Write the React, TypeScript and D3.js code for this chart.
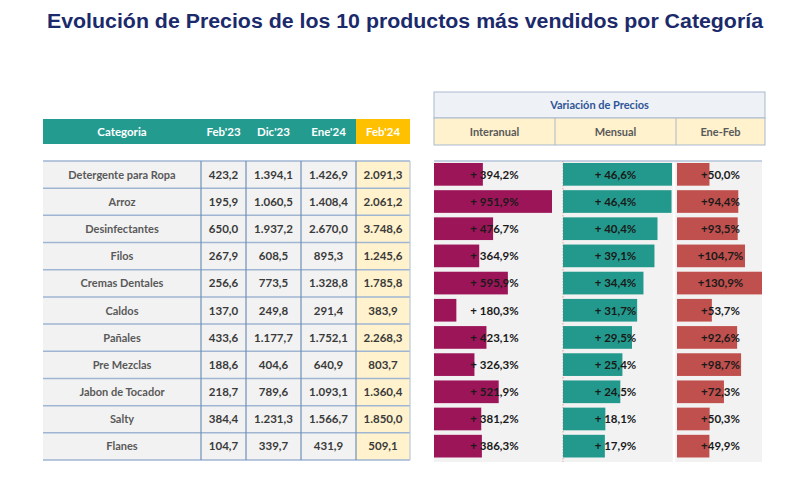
import React from "react";
import * as d3 from "d3";

const categories = [
  "Detergente para Ropa", "Arroz", "Desinfectantes", "Filos", "Cremas Dentales",
  "Caldos", "Pañales", "Pre Mezclas", "Jabon de Tocador", "Salty", "Flanes",
];
const feb23 = [423.2, 195.9, 650.0, 267.9, 256.6, 137.0, 433.6, 188.6, 218.7, 384.4, 104.7];
const dic23 = [1394.1, 1060.5, 1937.2, 608.5, 773.5, 249.8, 1177.7, 404.6, 789.6, 1231.3, 339.7];
const ene24 = [1426.9, 1408.4, 2670.0, 895.3, 1328.8, 291.4, 1752.1, 640.9, 1093.1, 1566.7, 431.9];
const feb24 = [2091.3, 2061.2, 3748.6, 1245.6, 1785.8, 383.9, 2268.3, 803.7, 1360.4, 1850.0, 509.1];
const interanual = [394.2, 951.9, 476.7, 364.9, 595.9, 180.3, 423.1, 326.3, 521.9, 381.2, 386.3];
const mensual = [46.6, 46.4, 40.4, 39.1, 34.4, 31.7, 29.5, 25.4, 24.5, 18.1, 17.9];
const eneFeb = [50.0, 94.4, 93.5, 104.7, 130.9, 53.7, 92.6, 98.7, 72.3, 50.3, 49.9];
const priceHeaders = ["Categoria", "Feb'23", "Dic'23", "Ene'24", "Feb'24"];
const varHeaders = ["Interanual", "Mensual", "Ene-Feb"];
const title = "Evolución de Precios de los 10 productos más vendidos por Categoría";
const varTitle = "Variación de Precios";

const loc = d3.formatLocale({ decimal: ",", thousands: ".", grouping: [3], currency: ["$", ""] });
const fmtNum = loc.format(",.1f");
const fmtPct = loc.format(".1f");

const FONT = "Lato, 'Open Sans', sans-serif";

export default function App() {
  const W = 790, H = 479;
  const rowTop = 161, rowBottom = 460;
  const y = d3.scaleBand<number>().domain(d3.range(categories.length)).range([rowTop, rowBottom]);
  const rh = y.bandwidth();

  const colEdges = [43, 201, 246, 301, 356, 410];
  const colData = [feb23, dic23, ene24, feb24];

  const pL = 434, pR = 765;
  const pCols = [434, 555, 676, 765];
  const xInter = d3.scaleLinear().domain([0, 951.9]).range([434, 552]);
  const xMens = d3.scaleLinear().domain([0, 46.6]).range([563, 672]);
  const xEne = d3.scaleLinear().domain([0, 130.9]).range([677, 762]);
  const series = [
    { vals: interanual, x: xInter, color: "#9c1558", sep: "+ " },
    { vals: mensual, x: xMens, color: "#22998c", sep: "+ " },
    { vals: eneFeb, x: xEne, color: "#c0504d", sep: "+" },
  ];
  const barPad = 2;

  return (
    <svg width={W} height={H} style={{ position: "absolute", left: 0, top: 0, background: "#fff" }}>
      <rect x={0} y={0} width={W} height={H} fill="#fff" />
      <text x={405} y={28} textAnchor="middle" fontFamily="'Liberation Sans', Arial, sans-serif"
        fontWeight="bold" fontSize={20} fill="#1b2a6b" textLength={716} lengthAdjust="spacingAndGlyphs">
        {title}
      </text>

      <rect x={colEdges[0]} y={119} width={colEdges[4] - colEdges[0]} height={25} fill="#249b8f" />
      <rect x={colEdges[4]} y={119} width={colEdges[5] - colEdges[4]} height={25} fill="#ffc000" />
      {priceHeaders.map((h, i) => (
        <text key={h} x={(colEdges[i] + colEdges[i + 1]) / 2} y={135.5} textAnchor="middle"
          fontFamily={FONT} fontWeight="bold" fontSize={11.5} fill="#fff">{h}</text>
      ))}

      {categories.map((c, r) => {
        const yy = y(r)!;
        return (
          <g key={c}>
            <rect x={colEdges[0]} y={yy} width={colEdges[4] - colEdges[0]} height={rh} fill="#f2f2f2" />
            <rect x={colEdges[4]} y={yy} width={colEdges[5] - colEdges[4]} height={rh} fill="#fff2cc" />
            <text x={(colEdges[0] + colEdges[1]) / 2} y={yy + rh / 2 + 4} textAnchor="middle"
              fontFamily={FONT} fontWeight="bold" fontSize={11} fill="#595959">{c}</text>
            {colData.map((arr, k) => (
              <text key={k} x={(colEdges[k + 1] + colEdges[k + 2]) / 2} y={yy + rh / 2 + 4} textAnchor="middle"
                fontFamily={FONT} fontWeight="bold" fontSize={11.5} fill="#3a3a3a">{fmtNum(arr[r])}</text>
            ))}
          </g>
        );
      })}
      {d3.range(categories.length + 1).map((r) => {
        const yy = r === categories.length ? rowBottom : y(r)!;
        return <line key={r} x1={colEdges[0]} x2={colEdges[5]} y1={yy} y2={yy} stroke="#9fb6d3" strokeWidth={1.5} />;
      })}
      {colEdges.slice(1).map((x, i) => (
        <line key={i} x1={x} x2={x} y1={rowTop} y2={rowBottom} stroke={i === 4 ? "#b8c8dc" : "#6f8fb8"} strokeWidth={1.2} />
      ))}

      <rect x={pL} y={92} width={pR - pL} height={26} fill="#eef1f5" stroke="#a9b9cf" />
      <text x={(pL + pR) / 2} y={109} textAnchor="middle" fontFamily={FONT} fontWeight="bold"
        fontSize={11} fill="#2e5597">{varTitle}</text>
      <rect x={pL} y={118} width={pR - pL} height={27} fill="#fff2cc" stroke="#a9b9cf" />
      {varHeaders.map((h, i) => (
        <g key={h}>
          {i > 0 && <line x1={pCols[i]} x2={pCols[i]} y1={118} y2={145} stroke="#a9b9cf" />}
          <text x={(pCols[i] + pCols[i + 1]) / 2} y={135.5} textAnchor="middle" fontFamily={FONT}
            fontWeight="bold" fontSize={11} fill="#595959">{h}</text>
        </g>
      ))}

      <rect x={pL} y={rowTop} width={pR - pL - 3} height={rowBottom - rowTop + 2} fill="#f2f2f2" />
      <line x1={pL} x2={pR - 3} y1={rowTop} y2={rowTop} stroke="#b4c4d8" strokeWidth={1.5} />
      <line x1={674} x2={674} y1={rowTop + 1} y2={rowBottom + 2} stroke="#fff" strokeWidth={2.5} />
      <line x1={563} x2={563} y1={rowTop} y2={rowBottom + 2} stroke="#e8a0a0" strokeWidth={1} strokeDasharray="1.5,1.5" />
      {series.map((s, si) => (
        <g key={si}>
          {s.vals.map((v, r) => (
            <rect key={r} x={s.x(0)} y={y(r)! + barPad} width={s.x(v) - s.x(0)} height={rh - barPad * 2 - 0.5} fill={s.color} />
          ))}
          {s.vals.map((v, r) => (
            <text key={"t" + r} x={(pCols[si] + pCols[si + 1]) / 2} y={y(r)! + rh / 2 + 4} textAnchor="middle"
              fontFamily={FONT} fontWeight="bold" fontSize={11.5} fill="#1a1a1a">{s.sep + fmtPct(v) + "%"}</text>
          ))}
        </g>
      ))}
    </svg>
  );
}
